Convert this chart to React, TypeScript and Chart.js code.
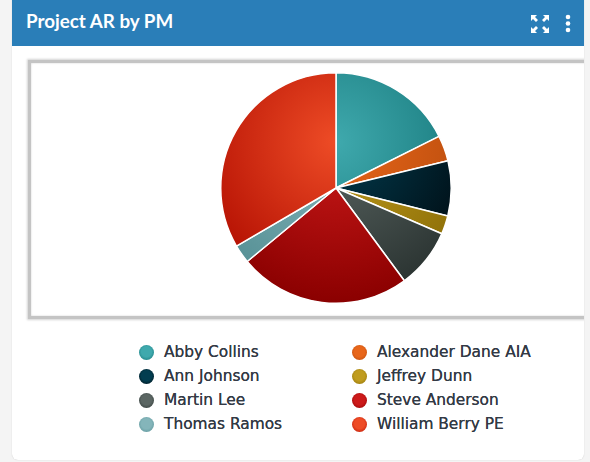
import React, { useEffect, useRef } from "react";
import { Chart, registerables } from "chart.js";

Chart.register(...registerables);

const categories = ["Abby Collins", "Alexander Dane AIA", "Ann Johnson", "Jeffrey Dunn", "Martin Lee", "Steve Anderson", "Thomas Ramos", "William Berry PE"];
const values = [17.6, 3.6, 7.7, 2.6, 8.4, 24.1, 2.6, 33.4];
const innerColors = ["#3fa9ad", "#e8661a", "#023d50", "#c09c1e", "#5b6663", "#cc1a1a", "#84b5ba", "#ee4c26"];
const outerColors = ["#127275", "#b54a0c", "#000a10", "#8a6c06", "#293230", "#8a0000", "#558f94", "#b00c00"];
const titleText = "Project AR by PM";

const W = 610;
const H = 253;

export default function App() {
  const ref = useRef<HTMLCanvasElement>(null);
  useEffect(() => {
    const chart = new Chart(ref.current!, {
      type: "pie",
      data: {
        labels: categories,
        datasets: [{
          data: values,
          borderColor: "#ffffff",
          borderWidth: 1.5,
          backgroundColor: (c: any) => {
            const area = c.chart.chartArea;
            if (!area) return innerColors[c.dataIndex];
            const cx = (area.left + area.right) / 2;
            const cy = (area.top + area.bottom) / 2;
            const R = Math.min(area.right - area.left, area.bottom - area.top) / 2;
            const g = c.chart.ctx.createRadialGradient(cx, cy - 0.4 * R, 0, cx, cy - 0.4 * R, 1.4 * R);
            g.addColorStop(0, innerColors[c.dataIndex]);
            g.addColorStop(1, outerColors[c.dataIndex]);
            return g;
          },
        }],
      },
      options: {
        animation: false,
        responsive: false,
        layout: { padding: { top: 9, bottom: 12, left: 0, right: 0 } },
        plugins: { legend: { display: false }, tooltip: { enabled: false } },
      },
    });
    return () => chart.destroy();
  }, []);

  return (
    <div style={{ position: "fixed", inset: 0, background: "#f4f4f4", overflow: "hidden" }}>
      <div style={{ position: "absolute", left: 12, top: -6, width: 572, height: 466, background: "#fff", borderRadius: 6, overflow: "hidden", boxShadow: "0 0 1px #bbb" }}>
        <div style={{ height: 52, background: "#2a7eb8", position: "relative" }}>
          <div style={{ position: "absolute", left: 14, top: 15, color: "#fff", font: "bold 18.8px Lato, sans-serif" }}>{titleText}</div>
          <svg style={{ position: "absolute", left: 518, top: 20 }} width="20" height="20" viewBox="0 0 20 20" fill="#fff">
            <path d="M1 1h6l-2 2 3 3-2 2-3-3-2 2zM19 1v6l-2-2-3 3-2-2 3-3-2-2zM1 19v-6l2 2 3-3 2 2-3 3 2 2zM19 19h-6l2-2-3-3 2-2 3 3 2-2z" />
          </svg>
          <svg style={{ position: "absolute", left: 552, top: 20 }} width="8" height="20" viewBox="0 0 8 20" fill="#fff">
            <circle cx="4" cy="3" r="2.3" /><circle cx="4" cy="9.5" r="2.3" /><circle cx="4" cy="16" r="2.3" />
          </svg>
        </div>
        <div style={{ position: "absolute", left: 16, top: 66, width: W, height: H, border: "3px solid #c4c4c4", boxSizing: "content-box", boxShadow: "0 0 2px 1px #d4d4d4, inset 0 0 2px #ccc" }}>
          <canvas ref={ref} width={W} height={H} style={{ display: "block", width: W, height: H }} />
        </div>
      </div>
      <div style={{ position: "absolute", left: 139, top: 340, display: "grid", gridTemplateColumns: "213px 213px", gridAutoRows: "24px", font: "15.4px 'DejaVu Sans', sans-serif", color: "#333a45", textShadow: "0 0 0.6px #333a45" }}>
        {categories.map((name, i) => (
          <div key={name} style={{ display: "flex", alignItems: "center", whiteSpace: "nowrap" }}>
            <span style={{ width: 15, height: 15, borderRadius: "50%", marginRight: 10, background: `radial-gradient(circle at 50% 45%, ${innerColors[i]} 45%, ${outerColors[i]})` }} />
            {name}
          </div>
        ))}
      </div>
    </div>
  );
}
